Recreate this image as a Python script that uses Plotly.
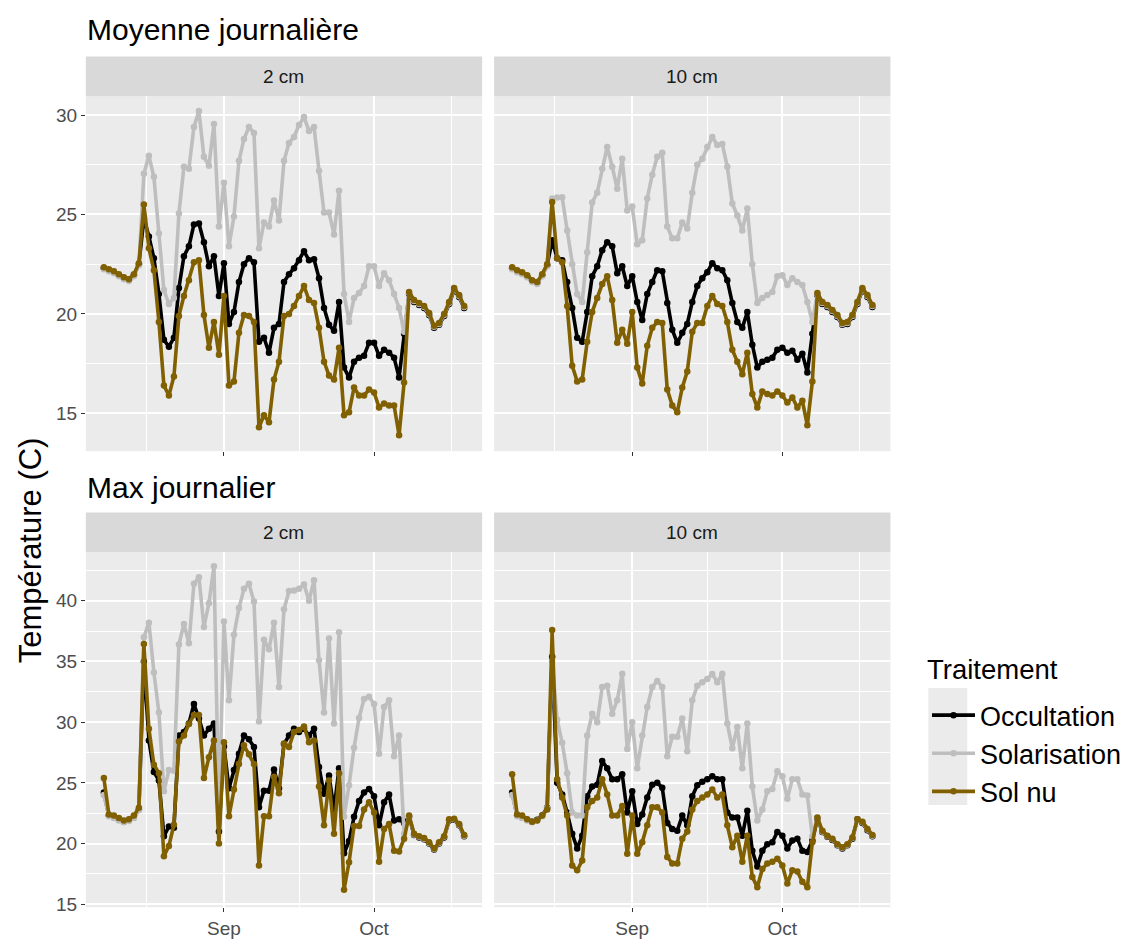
import plotly.graph_objects as go
import pandas as pd

W, H = 1127, 944

# ---------------- data ----------------
dates = pd.date_range("2023-08-08", periods=73, freq="D")
treatments = ["Occultation", "Solarisation", "Sol nu"]
colors = {"Occultation": "#000000", "Solarisation": "#BEBEBE", "Sol nu": "#806000"}

# Moyenne journalière, 2 cm
moy2_occ = [22.3, 22.2, 22.1, 21.95, 21.8, 21.7, 21.95, 22.5, 24.8, 23.9,
            22.8, 21.0, 18.7, 18.35, 18.8, 21.3, 22.9, 23.4, 24.5, 24.55,
            23.6, 22.4, 22.9, 20.9, 22.55, 19.5, 20.1, 21.6, 22.5, 22.8,
            22.6, 18.6, 18.8, 18.05, 19.3, 19.5, 21.6, 22.0, 22.3, 22.7,
            23.15, 22.7, 22.75, 21.8, 20.3, 19.45, 19.15, 20.6, 17.3, 16.8,
            17.6, 17.8, 17.9, 18.55, 18.55, 17.9, 18.2, 18.05, 17.8, 16.8,
            19.0, 21.0, 20.6, 20.45, 20.3, 19.95, 19.3, 19.45, 19.9, 20.5,
            21.2, 20.85, 20.3]
moy2_sol = [22.25, 22.15, 22.05, 21.9, 21.75, 21.65, 21.9, 22.45, 27.05, 27.95,
            26.9, 24.05, 21.2, 20.5, 20.8, 25.05, 27.4, 27.3, 29.4, 30.2,
            27.9, 27.45, 29.55, 24.4, 26.6, 23.4, 24.9, 27.7, 28.8, 29.4,
            29.1, 23.3, 24.6, 24.4, 25.7, 24.7, 27.7, 28.6, 28.9, 29.5,
            29.9, 29.2, 29.4, 27.2, 25.1, 25.1, 24.0, 26.2, 21.0, 19.6,
            20.8, 21.05, 21.4, 22.4, 22.4, 21.4, 22.05, 21.7, 21.0, 20.3,
            19.1, 21.05, 20.65, 20.5, 20.35, 20.0, 19.35, 19.5, 19.95, 20.55,
            21.25, 20.9, 20.35]
moy2_nu = [22.35, 22.25, 22.15, 22.0, 21.85, 21.75, 22.0, 22.55, 25.5, 23.3,
           22.2, 19.6, 16.4, 15.9, 16.85, 19.9, 20.9, 21.7, 22.6, 22.7,
           19.95, 18.3, 19.6, 17.95, 20.9, 16.4, 16.6, 19.05, 19.95, 19.9,
           19.6, 14.3, 14.9, 14.55, 16.7, 17.6, 19.9, 20.0, 20.4, 20.9,
           21.4, 20.7, 20.55, 19.3, 17.6, 16.9, 16.7, 18.3, 14.9, 15.05,
           16.3, 15.9, 15.9, 16.2, 16.05, 15.3, 15.5, 15.4, 15.4, 13.9,
           16.55, 21.1, 20.7, 20.55, 20.4, 20.05, 19.4, 19.55, 20.0, 20.6,
           21.3, 20.95, 20.4]

# Moyenne journalière, 10 cm
moy10_occ = [22.3, 22.15, 22.05, 21.9, 21.65, 21.55, 21.95, 22.45, 23.7, 22.8,
             22.7, 21.6, 20.3, 18.8, 18.6, 20.1, 21.9, 22.4, 23.2, 23.6,
             23.4, 22.05, 22.4, 21.4, 21.9, 20.6, 19.7, 21.0, 21.6, 22.2,
             22.15, 20.55, 19.2, 18.55, 19.05, 19.5, 20.6, 21.4, 21.8, 22.1,
             22.55, 22.3, 22.2, 21.7, 20.55, 19.6, 19.3, 20.1, 18.45, 17.3,
             17.6, 17.7, 17.8, 18.2, 18.3, 18.05, 18.15, 17.7, 18.0, 17.05,
             19.0, 20.95, 20.5, 20.35, 20.1, 19.85, 19.45, 19.5, 19.85, 20.5,
             21.2, 20.85, 20.35]
moy10_sol = [22.25, 22.1, 22.0, 21.85, 21.6, 21.5, 21.9, 22.4, 25.8, 25.85,
             25.87, 24.2, 22.5, 21.0, 20.6, 23.1, 25.6, 26.1, 27.3, 28.4,
             27.4, 26.3, 27.8, 25.2, 25.4, 23.5, 23.7, 25.8, 27.0, 27.9,
             28.1, 24.4, 23.8, 23.8, 24.6, 24.3, 26.1, 27.5, 27.8, 28.4,
             28.9, 28.5, 28.55, 27.4, 25.55, 24.95, 24.2, 25.3, 22.5, 20.55,
             20.8, 20.95, 21.1, 21.9, 21.95, 21.45, 21.8, 21.6, 21.45, 20.6,
             19.6, 21.0, 20.55, 20.4, 20.15, 19.9, 19.5, 19.55, 19.9, 20.55,
             21.25, 20.9, 20.4]
moy10_nu = [22.35, 22.2, 22.1, 21.95, 21.7, 21.6, 22.0, 22.5, 25.63, 22.8,
            22.6, 20.4, 17.4, 16.6, 16.7, 18.6, 20.1, 20.8, 21.5, 21.9,
            20.7, 18.55, 19.2, 18.5, 20.1, 17.3, 16.5, 18.4, 19.3, 19.6,
            19.55, 16.2, 15.4, 15.05, 16.3, 17.1, 19.1, 19.55, 19.55, 20.4,
            20.9, 20.5, 20.4, 19.6, 18.2, 17.6, 16.97, 18.05, 15.97, 15.3,
            16.1, 15.97, 15.9, 16.1, 15.9, 15.55, 15.8, 15.3, 15.63, 14.4,
            16.6, 21.05, 20.6, 20.45, 20.2, 19.95, 19.55, 19.6, 19.95, 20.6,
            21.3, 20.95, 20.45]

# Max journalier, 2 cm
max2_occ = [24.2, 22.3, 22.15, 21.95, 21.8, 21.9, 22.15, 22.8, 35.0, 28.5,
            25.9, 25.2, 20.6, 21.4, 21.3, 28.9, 29.2, 29.9, 31.5, 30.3,
            28.9, 29.45, 29.9, 21.0, 28.0, 24.55, 26.05, 27.4, 28.9, 28.6,
            27.95, 23.0, 24.35, 24.35, 26.1, 24.55, 28.2, 28.9, 29.45, 29.2,
            29.45, 28.9, 29.45, 26.3, 24.1, 25.6, 22.8, 26.2, 19.2, 20.2,
            22.2, 23.5, 24.2, 24.5, 23.9, 21.5, 23.4, 24.05, 21.9, 22.0,
            21.7, 22.2, 20.7, 20.5, 20.35, 20.0, 19.5, 20.0, 20.5, 21.9,
            21.95, 21.5, 20.6]
max2_sol = [24.0, 22.25, 22.1, 21.9, 21.75, 21.85, 22.1, 22.75, 37.0, 38.2,
            34.1, 30.8, 24.3, 26.05, 26.0, 36.4, 38.1, 36.5, 41.4, 41.95,
            37.85, 39.8, 42.85, 22.0, 38.3, 31.8, 37.2, 39.4, 41.0, 41.4,
            39.95, 30.05, 36.8, 36.0, 38.2, 32.9, 39.3, 40.8, 40.85, 41.0,
            41.35, 40.0, 41.7, 35.1, 30.8, 36.9, 29.9, 37.4, 22.2, 24.8,
            27.9, 30.35, 31.9, 32.1, 31.5, 27.4, 31.25, 31.8, 27.2, 28.9,
            20.8, 22.25, 20.75, 20.55, 20.4, 20.05, 19.55, 20.05, 20.55, 21.95,
            22.0, 21.55, 20.65]
max2_nu = [25.4, 22.4, 22.3, 22.1, 21.9, 22.0, 22.3, 22.95, 36.45, 29.45,
           26.5, 25.8, 18.95, 19.8, 21.55, 28.4, 28.9, 29.85, 30.6, 30.6,
           25.4, 27.1, 28.5, 20.0, 28.35, 22.25, 24.45, 26.55, 28.1, 27.35,
           26.55, 18.2, 22.25, 22.25, 25.5, 24.15, 28.25, 27.95, 29.2, 29.35,
           29.65, 28.35, 28.5, 24.7, 21.5, 25.2, 20.8, 25.8, 16.2, 18.45,
           21.45, 21.45, 22.8, 23.4, 22.55, 18.5, 21.2, 21.6, 19.4, 19.35,
           20.4, 22.3, 20.8, 20.6, 20.45, 20.1, 19.6, 20.1, 20.6, 22.0,
           22.05, 21.6, 20.7]

# Max journalier, 10 cm
max10_occ = [24.2, 22.3, 22.15, 21.95, 21.8, 21.95, 22.3, 22.95, 35.4, 25.0,
             24.05, 22.55, 20.8, 19.6, 20.65, 23.9, 24.7, 24.85, 26.8, 26.2,
             25.3, 25.3, 25.7, 22.55, 24.3, 21.6, 22.4, 23.8, 24.85, 25.0,
             24.6, 21.7, 21.2, 21.05, 22.3, 21.5, 23.9, 24.8, 25.1, 25.3,
             25.55, 25.3, 25.3, 22.55, 22.15, 22.15, 20.65, 22.7, 19.4, 18.1,
             19.4, 19.95, 20.1, 20.95, 20.65, 19.6, 20.25, 20.4, 19.4, 19.3,
             20.25, 22.05, 20.95, 20.55, 20.3, 19.85, 19.6, 19.85, 20.4, 22.0,
             21.7, 21.1, 20.6]
max10_sol = [24.0, 22.25, 22.1, 21.9, 21.75, 21.9, 22.25, 22.9, 35.0, 30.2,
             28.3, 25.8, 22.55, 22.3, 22.3, 28.9, 30.7, 30.0, 32.9, 33.0,
             30.7, 31.8, 34.0, 27.8, 30.0, 26.2, 28.9, 31.25, 32.9, 33.4,
             32.9, 27.2, 28.8, 28.8, 30.3, 27.6, 31.8, 33.0, 33.3, 33.55,
             33.97, 33.3, 34.0, 29.9, 27.85, 29.6, 26.2, 29.9, 24.7, 21.9,
             22.8, 24.3, 24.5, 25.95, 25.55, 23.7, 25.3, 25.3, 24.05, 23.95,
             20.6, 22.1, 21.0, 20.6, 20.35, 19.9, 19.65, 19.9, 20.45, 21.95,
             21.75, 21.15, 20.65]
max10_nu = [25.7, 22.4, 22.3, 22.0, 21.8, 21.9, 22.3, 22.8, 37.6, 25.3,
            23.8, 22.3, 18.2, 17.8, 18.6, 23.0, 23.5, 23.8, 25.3, 24.05,
            22.3, 22.3, 23.1, 19.15, 22.3, 19.15, 20.1, 21.5, 23.0, 23.0,
            22.55, 18.9, 18.35, 18.35, 20.4, 21.0, 22.8, 23.5, 23.8, 24.05,
            24.45, 23.8, 24.05, 21.5, 19.7, 20.65, 18.5, 20.65, 17.25, 16.4,
            17.9, 18.35, 18.5, 18.75, 18.2, 16.7, 17.8, 17.7, 16.85, 16.4,
            20.1, 22.15, 21.05, 20.65, 20.4, 19.95, 19.7, 19.95, 20.5, 22.0,
            21.8, 21.2, 20.7]

panel_titles = ["Moyenne journalière", "Max journalier"]
strip_labels = ["2 cm", "10 cm"]
legend_title = "Traitement"
y_title = "Température (C)"
x_tick_vals = ["2023-09-01", "2023-10-01"]
x_tick_text = ["Sep", "Oct"]
x_minor_vals = ["2023-08-16 12:00", "2023-09-16", "2023-10-16 12:00"]
x_range = ["2023-08-04 09:36", "2023-10-22 14:24"]
y_top_ticks = [15, 20, 25, 30]
y_top_minor = [17.5, 22.5, 27.5]
y_top_range = [13.1, 30.95]
y_bot_ticks = [15, 20, 25, 30, 35, 40]
y_bot_minor = [17.5, 22.5, 27.5, 32.5, 37.5, 42.5]
y_bot_range = [14.75, 44.0]

panels = [
    (1, {"Occultation": moy2_occ, "Solarisation": moy2_sol, "Sol nu": moy2_nu}),
    (2, {"Occultation": moy10_occ, "Solarisation": moy10_sol, "Sol nu": moy10_nu}),
    (3, {"Occultation": max2_occ, "Solarisation": max2_sol, "Sol nu": max2_nu}),
    (4, {"Occultation": max10_occ, "Solarisation": max10_sol, "Sol nu": max10_nu}),
]

# ---------------- geometry (pixels) ----------------
def fx(px):
    return px / W

def fy(py):
    return 1 - py / H

cols = [(86, 483), (495, 892)]
rows = [(97, 455), (557, 915)]
strip_rows = [(57, 97), (517, 557)]

FONT = "Liberation Sans, Arial, sans-serif"
fig = go.Figure()

for p, data in panels:
    for t in treatments:
        fig.add_trace(go.Scatter(
            x=dates, y=data[t], mode="lines+markers", name=t,
            legendgroup=t, showlegend=(p == 1),
            line=dict(color=colors[t], width=3.6),
            marker=dict(color=colors[t], size=6.5),
            xaxis="x" if p == 1 else f"x{p}",
            yaxis="y" if p == 1 else f"y{p}",
        ))

layout = dict(
    width=W, height=H, margin=dict(l=0, r=0, t=0, b=0),
    paper_bgcolor="white", plot_bgcolor="#EBEBEB",
    font=dict(family=FONT, color="#000000"),
    showlegend=True,
    legend=dict(
        x=fx(929), y=fy(697), xanchor="left", yanchor="top",
        font=dict(family=FONT, size=27, color="#000000"),
        bgcolor="rgba(0,0,0,0)", tracegroupgap=0, itemwidth=43,
    ),
)

tickfont = dict(family=FONT, size=19, color="#4D4D4D")
for p in range(1, 5):
    r = (p - 1) // 2
    c = (p - 1) % 2
    xname = "xaxis" if p == 1 else f"xaxis{p}"
    yname = "yaxis" if p == 1 else f"yaxis{p}"
    xa = dict(
        domain=[fx(cols[c][0]), fx(cols[c][1])],
        anchor="y" if p == 1 else f"y{p}",
        type="date", range=x_range,
        tickmode="array", tickvals=x_tick_vals, ticktext=x_tick_text,
        showticklabels=(r == 1), tickfont=tickfont,
        ticks="outside", ticklen=4, tickwidth=1.1, tickcolor="#333333",
        showgrid=True, gridcolor="white", gridwidth=1.8,
        minor=dict(tickmode="array", tickvals=x_minor_vals, showgrid=True,
                   gridcolor="white", gridwidth=0.9, ticks=""),
        zeroline=False, showline=False, fixedrange=True,
    )
    ya = dict(
        domain=[fy(rows[r][1]), fy(rows[r][0])],
        anchor="x" if p == 1 else f"x{p}",
        range=y_top_range if r == 0 else y_bot_range,
        tickmode="array",
        tickvals=y_top_ticks if r == 0 else y_bot_ticks,
        showticklabels=(c == 0), tickfont=tickfont,
        ticks="outside" if c == 0 else "", ticklen=4, tickwidth=1.1, tickcolor="#333333",
        showgrid=True, gridcolor="white", gridwidth=1.8,
        minor=dict(tickmode="array", tickvals=y_top_minor if r == 0 else y_bot_minor,
                   showgrid=True, gridcolor="white", gridwidth=0.9, ticks=""),
        zeroline=False, showline=False, fixedrange=True,
    )
    layout[xname] = xa
    layout[yname] = ya

shapes = []
annotations = []
for r in range(2):
    for c in range(2):
        shapes.append(dict(type="rect", xref="paper", yref="paper",
                           x0=fx(cols[c][0]), x1=fx(cols[c][1]),
                           y0=fy(strip_rows[r][1]), y1=fy(strip_rows[r][0]),
                           fillcolor="#D9D9D9", line=dict(width=0), layer="below"))
        annotations.append(dict(text=strip_labels[c], xref="paper", yref="paper",
                                x=fx((cols[c][0] + cols[c][1]) / 2),
                                y=fy((strip_rows[r][0] + strip_rows[r][1]) / 2),
                                showarrow=False, xanchor="center", yanchor="middle",
                                font=dict(family=FONT, size=19, color="#1A1A1A")))
# legend key background
shapes.append(dict(type="rect", xref="paper", yref="paper",
                   x0=fx(930), x1=fx(969), y0=fy(812), y1=fy(694),
                   fillcolor="#EBEBEB", line=dict(width=0), layer="below"))
annotations.append(dict(text=legend_title, xref="paper", yref="paper",
                        x=fx(927), y=fy(675), showarrow=False,
                        xanchor="left", yanchor="middle",
                        font=dict(family=FONT, size=27.5, color="#000000")))

for r, title in enumerate(panel_titles):
    annotations.append(dict(text=title, xref="paper", yref="paper",
                            x=fx(85), y=fy([30, 492][r]), showarrow=False,
                            xanchor="left", yanchor="middle",
                            font=dict(family=FONT, size=30, color="#000000")))
annotations.append(dict(text=y_title, xref="paper", yref="paper",
                        x=fx(30), y=fy(555), showarrow=False, textangle=-90,
                        xanchor="center", yanchor="middle",
                        font=dict(family=FONT, size=31, color="#000000")))

layout["shapes"] = shapes
layout["annotations"] = annotations
fig.update_layout(**layout)
fig.write_html("out.html")
